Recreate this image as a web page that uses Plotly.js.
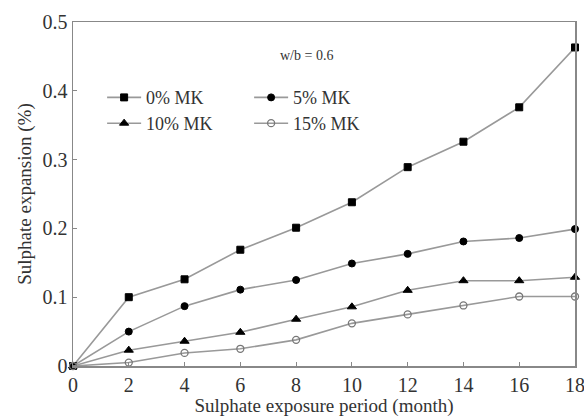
<!DOCTYPE html>
<html><head><meta charset="utf-8">
<script src="https://cdn.plot.ly/plotly-3.0.1.min.js"></script>
<style>html,body{margin:0;padding:0;background:#fff}#c{width:584px;height:419px}</style>
</head><body><div id="c"></div>
<script>
var months = [0, 2, 4, 6, 8, 10, 12, 14, 16, 18];
var mk0  = [0, 0.100, 0.126, 0.169, 0.201, 0.238, 0.289, 0.326, 0.376, 0.463];
var mk5  = [0, 0.050, 0.087, 0.111, 0.125, 0.149, 0.163, 0.181, 0.186, 0.199];
var mk10 = [0, 0.023, 0.036, 0.049, 0.068, 0.086, 0.110, 0.124, 0.124, 0.129];
var mk15 = [0, 0.005, 0.019, 0.025, 0.038, 0.062, 0.075, 0.088, 0.101, 0.101];
var names = ["0% MK", "5% MK", "10% MK", "15% MK"];
var xTicks = [0, 2, 4, 6, 8, 10, 12, 14, 16, 18];
var yTicks = [0, 0.1, 0.2, 0.3, 0.4, 0.5];
var yTickText = ["0", "0.1", "0.2", "0.3", "0.4", "0.5"];

var font = "'Liberation Serif', 'Times New Roman', serif";
function tr(y, name, sym, msize, mcol, lcol, leg) {
  return {x: months, y: y, name: name, type: "scatter", mode: "lines+markers",
    line: {color: "#999", width: 1.6},
    marker: {symbol: sym, size: msize, color: mcol, line: {color: lcol, width: 1}},
    legend: leg, cliponaxis: false};
}
var data = [
  tr(mk0, names[0], "square", 7, "#000", "#000", "legend"),
  tr(mk5, names[1], "circle", 7, "#000", "#000", "legend"),
  tr(mk10, names[2], "triangle-up", 8, "#000", "#000", "legend2"),
  tr(mk15, names[3], "circle-open", 7, "#777", "#777", "legend2")
];
data[3].marker.line.width = 1.3;
var legCommon = {orientation: "h", xanchor: "left", yanchor: "middle", bgcolor: "rgba(0,0,0,0)",
  font: {family: font, size: 18, color: "#333"}, entrywidth: 98, entrywidthmode: "pixels",
  itemwidth: 34, tracegroupgap: 0, traceorder: "normal"};
var layout = {
  width: 584, height: 419,
  margin: {l: 73, r: 9, t: 22, b: 53},
  paper_bgcolor: "#fff", plot_bgcolor: "#fff",
  showlegend: true,
  legend: Object.assign({x: 0.058, y: 0.78}, legCommon),
  legend2: Object.assign({x: 0.058, y: 0.705}, legCommon),
  xaxis: {range: [0, 18], tickvals: xTicks, ticks: "inside", ticklen: 4, tickcolor: "#888",
    showline: true, mirror: true, linecolor: "#888", linewidth: 1.5, showgrid: false, zeroline: false,
    ticklabeloverflow: "allow",
    tickfont: {family: font, size: 20, color: "#333"},
    title: {text: "Sulphate exposure period (month)", font: {family: font, size: 19, color: "#333"}, standoff: 2}},
  yaxis: {range: [0, 0.5], tickvals: yTicks, ticktext: yTickText, ticks: "inside", ticklen: 4, tickcolor: "#888",
    showline: true, mirror: true, linecolor: "#888", linewidth: 1.5, showgrid: false, zeroline: false,
    tickfont: {family: font, size: 20, color: "#333"},
    title: {text: "Sulphate expansion (%)", font: {family: font, size: 19, color: "#333"}, standoff: 6}},
  annotations: [{text: "w/b = 0.6", xref: "paper", yref: "paper", x: 0.465, y: 0.93, showarrow: false,
    font: {family: font, size: 14, color: "#333"}}]
};
Plotly.newPlot("c", data, layout, {displayModeBar: false, staticPlot: true});
</script></body></html>
